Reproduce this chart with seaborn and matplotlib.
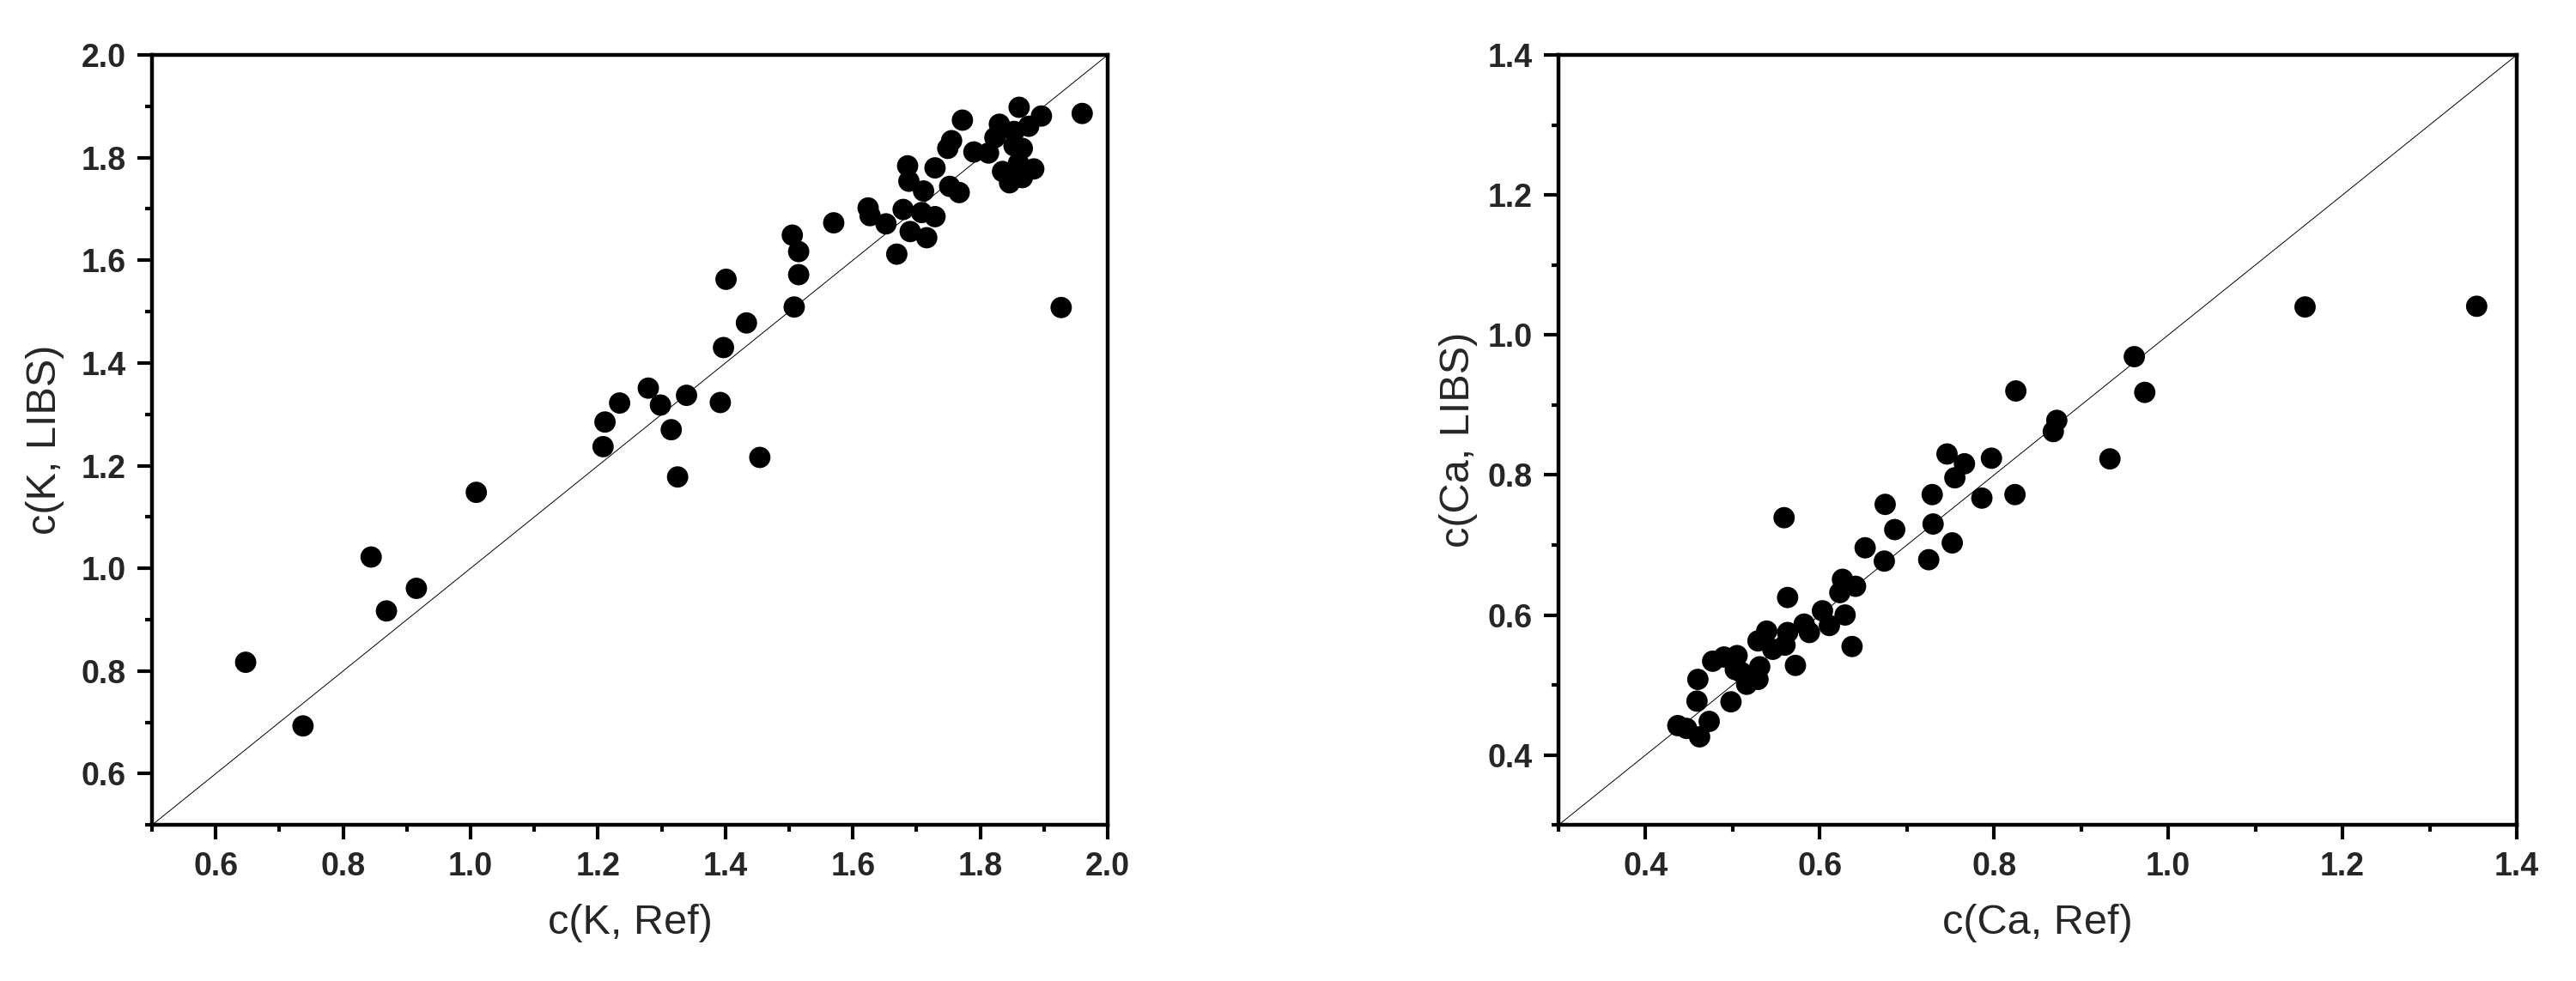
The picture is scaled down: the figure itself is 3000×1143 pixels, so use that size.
import numpy as np
import pandas as pd
import seaborn as sns
import matplotlib.pyplot as plt
from matplotlib.ticker import MultipleLocator

# K: reference vs LIBS
k_ref = [0.647, 0.737, 0.844, 0.868, 0.915, 1.009, 1.208, 1.211, 1.234, 1.279,
         1.298, 1.315, 1.325, 1.339, 1.392, 1.397, 1.401, 1.433, 1.454, 1.505,
         1.508, 1.515, 1.515, 1.570, 1.624, 1.627, 1.652, 1.669, 1.679, 1.686,
         1.688, 1.690, 1.711, 1.708, 1.716, 1.729, 1.729, 1.749, 1.755, 1.752,
         1.767, 1.772, 1.790, 1.813, 1.823, 1.830, 1.853, 1.853, 1.866, 1.835,
         1.846, 1.866, 1.884, 1.860, 1.861, 1.896, 1.876, 1.960, 1.927]
k_libs = [0.817, 0.693, 1.022, 0.917, 0.961, 1.148, 1.237, 1.285, 1.322, 1.351,
          1.318, 1.270, 1.178, 1.337, 1.323, 1.430, 1.563, 1.478, 1.216, 1.649,
          1.509, 1.617, 1.572, 1.673, 1.702, 1.687, 1.671, 1.612, 1.699, 1.784,
          1.754, 1.656, 1.735, 1.693, 1.644, 1.780, 1.685, 1.818, 1.833, 1.744,
          1.732, 1.873, 1.811, 1.809, 1.839, 1.865, 1.851, 1.823, 1.818, 1.773,
          1.751, 1.761, 1.778, 1.789, 1.898, 1.881, 1.861, 1.886, 1.508]

# Ca: reference vs LIBS
ca_ref = [0.437, 0.447, 0.462, 0.473, 0.459, 0.460, 0.498, 0.477, 0.490, 0.505,
          0.503, 0.510, 0.516, 0.529, 0.531, 0.529, 0.539, 0.546, 0.560, 0.563,
          0.572, 0.563, 0.559, 0.582, 0.588, 0.603, 0.611, 0.623, 0.629, 0.626,
          0.641, 0.637, 0.652, 0.674, 0.675, 0.686, 0.725, 0.729, 0.730, 0.752,
          0.746, 0.755, 0.766, 0.786, 0.797, 0.824, 0.825, 0.868, 0.872, 0.933,
          0.961, 0.973, 1.157, 1.354]
ca_libs = [0.442, 0.438, 0.426, 0.448, 0.477, 0.508, 0.476, 0.534, 0.540, 0.542,
           0.522, 0.518, 0.501, 0.508, 0.526, 0.563, 0.577, 0.551, 0.557, 0.575,
           0.528, 0.625, 0.739, 0.587, 0.575, 0.606, 0.585, 0.632, 0.600, 0.651,
           0.641, 0.555, 0.696, 0.677, 0.758, 0.722, 0.679, 0.772, 0.730, 0.703,
           0.830, 0.796, 0.816, 0.767, 0.824, 0.772, 0.920, 0.862, 0.878, 0.823,
           0.969, 0.918, 1.040, 1.041]

sns.set_style("ticks")
plt.rcParams['font.family'] = ['Liberation Sans', 'DejaVu Sans']

fig = plt.figure(figsize=(30, 11.43), dpi=100)
ax1 = fig.add_axes([0.059, 0.159, 0.371, 0.785])
ax2 = fig.add_axes([0.605, 0.159, 0.372, 0.785])

panels = [
    (ax1, k_ref, k_libs, (0.5, 2.0), "c(K, Ref)", "c(K, LIBS)", 14),
    (ax2, ca_ref, ca_libs, (0.3, 1.4), "c(Ca, Ref)", "c(Ca, LIBS)", 8),
]

for ax, xs, ys, lim, xlab, ylab, ypad in panels:
    df = pd.DataFrame({"ref": xs, "libs": ys})
    # 1:1 line
    ax.plot(lim, lim, color="black", lw=0.7, zorder=1)
    sns.scatterplot(data=df, x="ref", y="libs", ax=ax, color="black",
                    s=320, edgecolor="none", zorder=2)
    ax.set_xlim(lim)
    ax.set_ylim(lim)
    ax.xaxis.set_major_locator(MultipleLocator(0.2))
    ax.yaxis.set_major_locator(MultipleLocator(0.2))
    ax.xaxis.set_minor_locator(MultipleLocator(0.1))
    ax.yaxis.set_minor_locator(MultipleLocator(0.1))
    ax.set_xlabel(xlab, fontsize=35, labelpad=18)
    ax.set_ylabel(ylab, fontsize=35, labelpad=ypad)
    for sp in ax.spines.values():
        sp.set_visible(True)
        sp.set_linewidth(3.2)
        sp.set_color("black")
    ax.tick_params(which="major", direction="out", length=12, width=3,
                   labelsize=27, pad=10, color="black")
    ax.tick_params(which="minor", direction="out", length=6, width=3,
                   color="black")
    ax.tick_params(top=False, right=False, which="both")
    for lb in ax.get_xticklabels() + ax.get_yticklabels():
        lb.set_fontweight("bold")

fig.savefig("out.png", dpi=100, facecolor="white")
